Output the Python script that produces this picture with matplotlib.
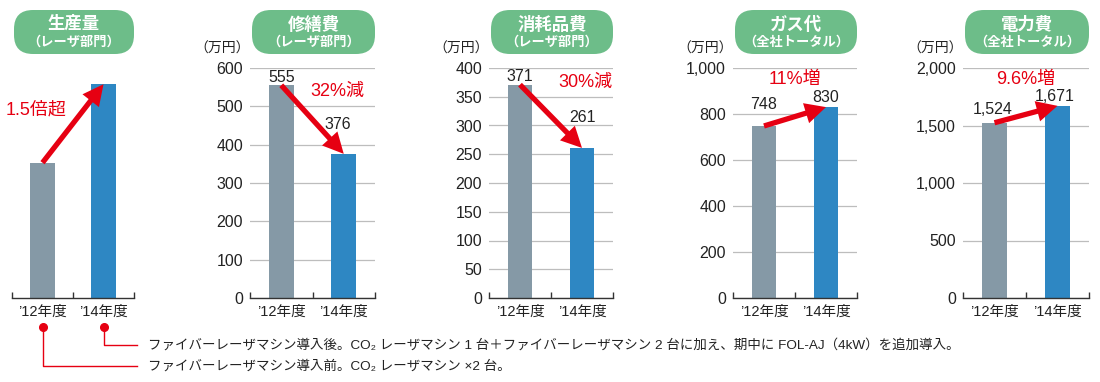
import matplotlib
matplotlib.use('Agg')
import matplotlib.pyplot as plt
from matplotlib.patches import FancyBboxPatch
from matplotlib.lines import Line2D
from matplotlib.ticker import FuncFormatter
from matplotlib.transforms import IdentityTransform

plt.rcParams['font.family'] = ['Liberation Sans', 'Noto Sans CJK JP', 'DejaVu Sans']

# data
years = ['’12年度', '’14年度']
titles = ['生産量', '修繕費', '消耗品費', 'ガス代', '電力費']
subtitles = ['（レーザ部門）', '（レーザ部門）', '（レーザ部門）', '（全社トータル）', '（全社トータル）']
production = [100, 158]     # relative index, no axis shown
repair = [555, 376]
consumables = [371, 261]
gas = [748, 830]
power = [1524, 1671]
series = [production, repair, consumables, gas, power]
changes = ['1.5倍超', '32%減', '30%減', '11%増', '9.6%増']
y_max = [170, 600, 400, 1000, 2000]
y_step = [None, 100, 50, 200, 500]
notes = ['ファイバーレーザマシン導入後。CO₂ レーザマシン 1 台＋ファイバーレーザマシン 2 台に加え、期中に FOL-AJ（4kW）を追加導入。',
         'ファイバーレーザマシン導入前。CO₂ レーザマシン ×2 台。']

# layout (pixels, measured from top-left)
W, H = 1100, 382
ax_left = [12, 250, 489, 733, 963]
ax_width = [122, 125, 124, 124, 126]
ax_top, ax_bottom = 68, 298
label_off = [None, [(0, 8), (-6, 29)], [(0, 8), (0, 30)], [(0, 21), (0, 10)], [(-2, 13), (-3, 9)]]
change_pos = [(0.2, 0.817), (0.70, 0.896), (0.78, 0.939), (0.5, 0.948), (0.5, 0.948)]

GRAY = '#8599a6'
BLUE = '#2e87c3'
GREEN = '#6dbd89'
RED = '#e60012'
PT = 0.72  # points per pixel at dpi 100

fig = plt.figure(figsize=(11, 3.82), dpi=100)
pix = IdentityTransform()

for i in range(5):
    ax = fig.add_axes([ax_left[i] / W, 1 - ax_bottom / H, ax_width[i] / W, (ax_bottom - ax_top) / H])
    vals = series[i]
    ax.bar([0.5, 1.5], vals, width=0.4, color=[GRAY, BLUE], zorder=2)
    ax.set_xlim(0, 2)
    ax.set_ylim(0, y_max[i])
    for s in ['left', 'right', 'top']:
        ax.spines[s].set_visible(False)
    ax.spines['bottom'].set_color('#333333')
    ax.spines['bottom'].set_linewidth(1)
    ax.set_xticks([0.5, 1.5], years)
    ax.set_xticks([0, 1, 2], minor=True)
    ax.tick_params(axis='x', which='major', length=0, pad=5, labelsize=10.5, labelcolor='#222222')
    ax.tick_params(axis='x', which='minor', direction='in', length=4, width=1, color='#333333')

    if y_step[i] is None:
        ax.set_yticks([])
    else:
        ticks = list(range(0, y_max[i] + 1, y_step[i]))
        ax.set_yticks(ticks)
        ax.yaxis.set_major_formatter(FuncFormatter(lambda v, p: f'{int(v):,}'))
        ax.tick_params(axis='y', length=0, pad=5, labelsize=11.5, labelcolor='#222222')
        ax.yaxis.grid(True, color='#bdbdbd', lw=0.9)
        ax.set_axisbelow(True)
        ax.annotate('（万円）', xy=(0, 1), xycoords='axes fraction',
                    xytext=(0, 19 * PT), textcoords='offset points',
                    ha='right', va='center', fontsize=10, color='#222222')
        for j in range(2):
            dx, dy = label_off[i][j]
            ax.annotate(f'{vals[j]:,}', xy=(0.5 + j, vals[j]), xytext=(dx * PT, dy * PT),
                        textcoords='offset points', ha='center', va='center',
                        fontsize=11.5, color='#222222', zorder=4)

    ax.annotate('', xy=(1.5, vals[1]), xytext=(0.5, vals[0]),
                arrowprops=dict(arrowstyle='simple,head_length=1.5,head_width=1.5,tail_width=0.38',
                                mutation_scale=10, color=RED, lw=0, shrinkA=0, shrinkB=0),
                zorder=5)
    cx, cy = change_pos[i]
    ax.text(cx * 2, cy * y_max[i], changes[i], ha='center', va='center',
            fontsize=13, color=RED, zorder=5)

    # title bubble
    x0 = ax_left[i] + 2
    x1 = ax_left[i] + ax_width[i]
    fig.patches.append(FancyBboxPatch((x0, H - 54), x1 - x0, 44,
                                      boxstyle='round,pad=0,rounding_size=19',
                                      fc=GREEN, ec='none', transform=pix, figure=fig))
    xc = (x0 + x1) / 2 / W
    fig.text(xc, 1 - 24 / H, titles[i], ha='center', va='center', fontsize=12.5,
             fontweight='bold', color='white')
    fig.text(xc, 1 - 42 / H, subtitles[i], ha='center', va='center', fontsize=9.5,
             fontweight='bold', color='white')

# footnote leaders
x12 = ax_left[0] + 0.25 * ax_width[0]
x14 = ax_left[0] + 0.75 * ax_width[0]
for xd, yl in [(x14, 345), (x12, 366)]:
    fig.add_artist(Line2D([xd, xd, 137], [H - 327, H - yl, H - yl], color=RED, lw=1, transform=pix))
    fig.add_artist(Line2D([xd], [H - 327], marker='o', ms=5.5, color=RED, transform=pix))
fig.text(148 / W, 1 - 345 / H, notes[0], ha='left', va='center', fontsize=9.7, color='#222222')
fig.text(148 / W, 1 - 366 / H, notes[1], ha='left', va='center', fontsize=9.7, color='#222222')

fig.savefig('out.png', dpi=100)
